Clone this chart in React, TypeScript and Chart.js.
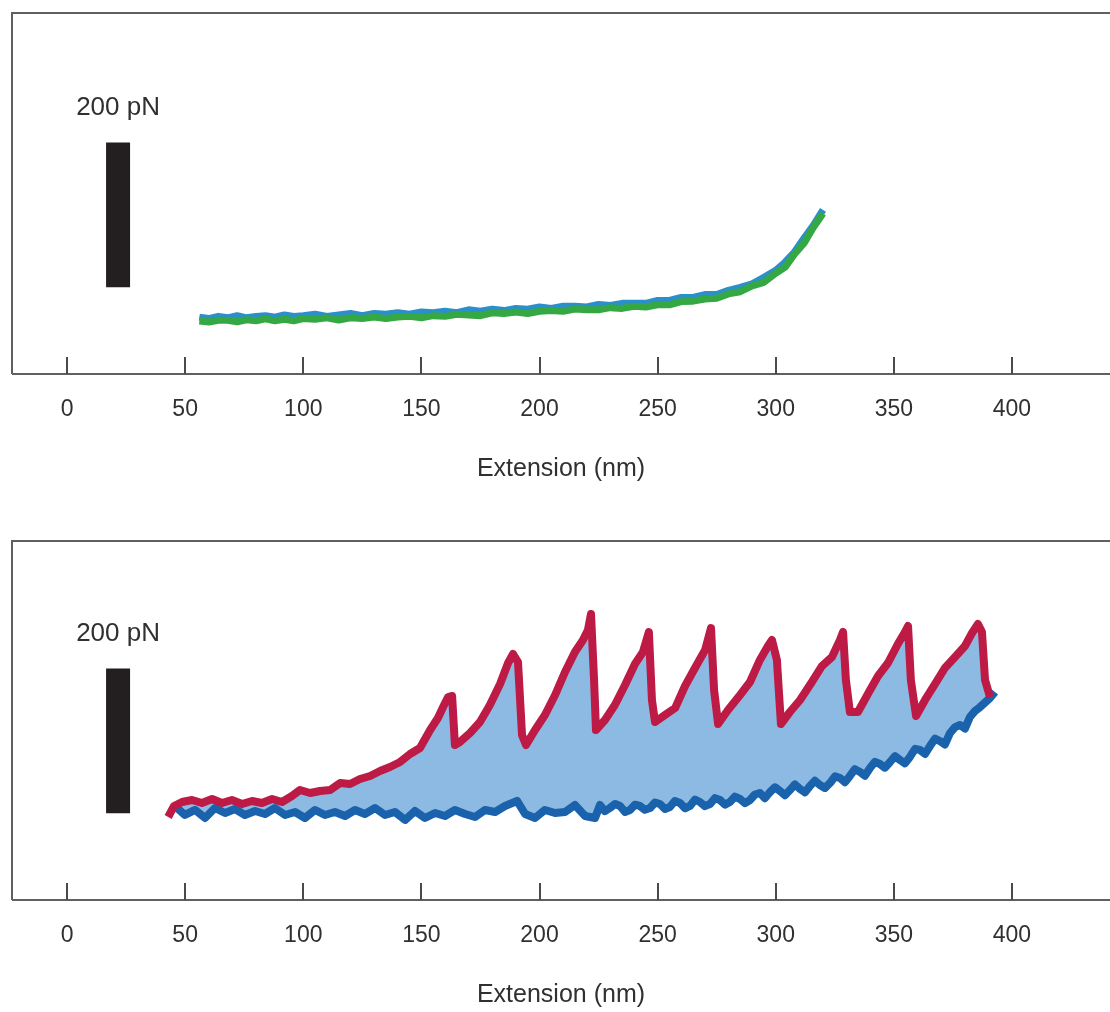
import React, { useEffect, useRef } from 'react';
import { Chart, registerables } from 'chart.js';

Chart.register(...registerables);

// ---------- axis / labels ----------
const X_TICKS = [0, 50, 100, 150, 200, 250, 300, 350, 400];
const X_TITLE = 'Extension (nm)';
const X_MIN = -23.3;
const X_MAX = 441.5;
const Y_MIN = -74.5;
const TOP_Y_MAX = 423.5;
const BOTTOM_Y_MAX = 420.7;
const SCALE_BAR_LABEL = '200 pN';
const SCALE_BAR_X = 21.6;
const SCALE_BAR_Y = [45, 245];
const SCALE_LABEL_Y = 293;

// ---------- top panel: two overlapping traces (nm, pN) ----------
const topX = [56, 60, 64, 68, 72, 76, 80, 84, 88, 92, 96, 100, 105, 110, 115, 120, 125, 130, 135, 140, 145, 150, 155, 160, 165, 170, 175, 180, 185, 190, 195, 200, 205, 210, 215, 220, 225, 230, 235, 240, 245, 250, 255, 260, 265, 270, 275, 280, 285, 290, 295, 300, 304, 308, 312, 316, 320];
const topBlueY = [4, 2, 5, 3, 6, 3, 5, 6, 4, 7, 5, 6, 8, 5, 7, 9, 6, 9, 8, 10, 8, 11, 10, 12, 10, 14, 12, 15, 13, 16, 15, 18, 16, 19, 19, 18, 21.5, 20, 23, 23, 23, 27, 27, 31, 31, 35, 35, 41, 45, 50, 59, 68.5, 80, 94, 113, 131, 152];
const topGreenY = [-1.5, -2.7, -0.5, -0.5, -2.5, 0.3, -1, 1.5, -1, 1, -1, 2, 1, 3, 0, 3, 2, 4, 2, 4, 5, 3, 6, 5, 8, 7, 6, 10, 9, 11, 9, 12, 13, 12, 15, 14, 14, 17, 16, 19, 18, 21, 21, 25.5, 26, 29, 30, 36, 39, 47, 52, 64.5, 73, 91, 106, 128, 147];

// ---------- bottom panel: extension (red) and retraction (blue) ----------
const redX = [42.8, 45.3, 48.7, 52.9, 57.1, 61.4, 65.6, 69.8, 74.1, 78.3, 82.5, 86.8, 91.0, 95.2, 98.6, 102.9, 107.1, 111.4, 115.6, 119.8, 124.0, 128.3, 132.5, 136.7, 141.0, 145.2, 149.4, 153.7, 157.0, 159.6, 161.3, 163.0, 164.2, 166.3, 170.6, 174.8, 179.0, 183.3, 186.7, 188.8, 190.9, 192.6, 194.3, 198.1, 202.3, 206.6, 210.8, 215.0, 218.4, 220.5, 221.8, 223.1, 223.9, 227.7, 231.9, 236.2, 240.4, 243.8, 246.3, 247.6, 248.9, 253.1, 257.4, 261.6, 265.8, 270.1, 272.6, 273.9, 275.6, 279.8, 284.9, 289.1, 293.3, 296.7, 298.4, 300.5, 302.2, 306.0, 310.3, 315.3, 319.6, 323.8, 327.2, 328.5, 329.7, 331.4, 334.8, 339.0, 343.3, 347.5, 351.7, 354.7, 356.0, 357.2, 359.4, 363.2, 367.4, 371.6, 375.9, 380.1, 383.1, 385.6, 387.3, 388.6, 390.7];
const redY = [40.0, 55.2, 60.7, 63.4, 59.3, 64.8, 59.3, 63.4, 57.9, 62.1, 59.3, 64.8, 60.7, 69.0, 77.2, 73.1, 75.9, 77.2, 86.9, 85.5, 92.4, 96.6, 103.4, 109.0, 115.9, 126.9, 135.2, 160.0, 176.6, 194.5, 205.5, 206.9, 139.3, 143.4, 155.9, 171.0, 194.5, 223.4, 252.4, 264.8, 253.8, 153.1, 139.3, 160.0, 180.7, 208.3, 240.0, 267.6, 284.1, 297.9, 320.0, 229.0, 160.0, 173.8, 194.5, 222.1, 251.0, 267.6, 295.2, 201.4, 171.0, 180.7, 190.3, 220.7, 245.5, 270.3, 300.7, 215.2, 168.3, 187.6, 208.3, 226.2, 256.6, 275.9, 284.1, 256.6, 168.3, 184.8, 201.4, 226.2, 248.3, 260.7, 284.1, 295.2, 229.0, 184.8, 184.8, 209.7, 234.5, 252.4, 278.6, 295.2, 303.4, 229.0, 179.3, 201.4, 223.4, 245.5, 260.7, 275.9, 293.8, 306.2, 295.2, 229.0, 205.5];
const retractX = [46.6, 49.9, 54.2, 58.4, 62.6, 66.9, 71.1, 75.3, 79.6, 83.8, 88.0, 92.3, 96.5, 100.7, 105.0, 109.2, 113.4, 117.7, 121.9, 126.1, 130.4, 134.6, 138.8, 143.1, 147.3, 151.5, 155.8, 160.0, 164.2, 168.5, 172.7, 176.9, 181.2, 185.4, 190.5, 193.9, 198.1, 202.3, 206.6, 210.8, 215.0, 219.3, 223.5, 225.6, 227.7, 229.8, 232.0, 234.1, 236.2, 238.3, 240.4, 242.5, 244.6, 246.8, 248.9, 251.0, 253.1, 255.2, 257.3, 259.5, 261.6, 263.7, 265.8, 267.9, 270.0, 272.2, 274.3, 276.4, 278.5, 280.6, 282.7, 284.9, 287.0, 289.1, 291.2, 293.3, 295.4, 297.6, 299.7, 301.8, 303.9, 306.0, 308.1, 310.3, 312.4, 314.5, 316.6, 318.7, 320.8, 323.0, 325.1, 327.2, 329.3, 331.4, 333.5, 335.7, 337.8, 339.9, 342.0, 344.1, 346.2, 348.4, 350.5, 352.6, 354.7, 356.8, 359.0, 361.1, 363.2, 365.3, 367.4, 369.5, 371.6, 373.8, 375.9, 378.0, 380.1, 382.2, 384.3, 386.5, 388.6, 390.7, 392.8];
const retractY = [52.4, 42.8, 49.7, 38.6, 52.4, 45.5, 51.0, 42.8, 48.3, 44.1, 52.4, 42.8, 46.9, 38.6, 49.7, 42.8, 46.9, 41.4, 49.7, 44.1, 52.4, 42.8, 46.9, 35.9, 48.3, 38.6, 45.5, 41.4, 49.7, 44.1, 40.0, 49.7, 46.9, 55.2, 62.1, 44.1, 38.6, 49.7, 45.5, 46.9, 56.6, 41.4, 38.6, 56.6, 48.0, 52.4, 58.0, 55.2, 47.0, 49.7, 57.0, 55.2, 50.0, 52.4, 60.0, 57.9, 51.0, 53.8, 62.0, 59.3, 52.0, 55.2, 64.0, 60.7, 55.0, 57.9, 66.0, 63.4, 57.0, 60.7, 68.0, 64.8, 59.0, 63.4, 71.0, 73.1, 66.0, 74.5, 81.0, 75.9, 70.0, 77.2, 85.0, 78.6, 74.0, 82.8, 90.0, 84.1, 80.0, 86.9, 96.0, 93.8, 88.0, 96.6, 106.0, 102.1, 97.0, 107.6, 116.0, 113.1, 108.0, 115.9, 124.0, 118.6, 114.0, 122.8, 134.0, 132.4, 127.0, 137.9, 148.0, 144.8, 140.0, 155.9, 164.0, 166.9, 162.0, 177.9, 186.0, 191.7, 198.0, 204.1, 212.4];

const FONT = '"Liberation Sans", Arial, Helvetica, sans-serif';
const TEXT_COLOR = '#303030';

const pts = (xs: number[], ys: number[]) => xs.map((x, i) => ({ x, y: ys[i] }));

const decorPlugin = {
  id: 'decor',
  afterDraw(chart: any) {
    const { ctx, chartArea: a, scales } = chart;
    const x = scales.x;
    const y = scales.y;
    ctx.save();
    ctx.strokeStyle = '#606060';
    ctx.lineWidth = 2;
    ctx.beginPath();
    ctx.moveTo(a.left, a.bottom);
    ctx.lineTo(a.left, a.top);
    ctx.lineTo(chart.width, a.top);
    ctx.moveTo(a.left, a.bottom);
    ctx.lineTo(chart.width, a.bottom);
    ctx.stroke();
    ctx.strokeStyle = '#4a4a4a';
    for (const v of X_TICKS) {
      const px = Math.round(x.getPixelForValue(v));
      ctx.beginPath();
      ctx.moveTo(px, a.bottom);
      ctx.lineTo(px, a.bottom - 17);
      ctx.stroke();
    }
    ctx.fillStyle = TEXT_COLOR;
    ctx.font = `26px ${FONT}`;
    ctx.textAlign = 'center';
    ctx.textBaseline = 'middle';
    ctx.fillText(SCALE_BAR_LABEL, x.getPixelForValue(SCALE_BAR_X), y.getPixelForValue(SCALE_LABEL_Y));
    ctx.restore();
  },
};

function scaleBarDataset() {
  return {
    label: 'scale',
    data: [
      { x: SCALE_BAR_X, y: SCALE_BAR_Y[0] },
      { x: SCALE_BAR_X, y: SCALE_BAR_Y[1] },
    ],
    borderColor: '#231f20',
    borderWidth: 24,
    borderCapStyle: 'butt',
    pointRadius: 0,
    fill: false,
  };
}

function Panel({ top, padTop, yMax, datasets }: { top: number; padTop: number; yMax: number; datasets: any[] }) {
  const ref = useRef<HTMLCanvasElement | null>(null);
  useEffect(() => {
    if (!ref.current) return;
    const chart = new Chart(ref.current, {
      type: 'line',
      data: { datasets: [...datasets, scaleBarDataset()] },
      options: {
        animation: false,
        responsive: false,
        maintainAspectRatio: false,
        events: [],
        layout: { padding: { left: 12, right: 0, top: padTop, bottom: 0 } },
        plugins: {
          legend: { display: false },
          tooltip: { enabled: false },
          filler: { drawTime: 'beforeDatasetsDraw' },
        },
        elements: { line: { tension: 0, borderJoinStyle: 'round' }, point: { radius: 0 } },
        scales: {
          x: {
            type: 'linear',
            min: X_MIN,
            max: X_MAX,
            afterBuildTicks: (s: any) => {
              s.ticks = X_TICKS.map((v) => ({ value: v }));
            },
            afterFit: (s: any) => {
              s.height = 132;
            },
            grid: { display: false, drawTicks: false },
            border: { display: false },
            ticks: {
              autoSkip: false,
              maxRotation: 0,
              padding: 22,
              color: TEXT_COLOR,
              font: { family: FONT, size: 23 },
            },
            title: {
              display: true,
              text: X_TITLE,
              color: TEXT_COLOR,
              font: { family: FONT, size: 25 },
              padding: { top: 0, bottom: 22 },
            },
          },
          y: { type: 'linear', display: false, min: Y_MIN, max: yMax },
        },
      } as any,
      plugins: [decorPlugin],
    });
    return () => chart.destroy();
  }, []);
  return (
    <div style={{ position: 'absolute', left: 0, top, width: 1110, height: 506 }}>
      <canvas ref={ref} width={1110} height={506} style={{ width: 1110, height: 506, display: 'block' }} />
    </div>
  );
}

export default function App() {
  const topDatasets = [
    {
      label: 'green',
      data: pts(topX, topGreenY),
      borderColor: '#35a844',
      borderWidth: 7,
      pointRadius: 0,
      fill: false,
    },
    {
      label: 'blue',
      data: pts(topX, topBlueY),
      borderColor: '#2a8fcb',
      borderWidth: 7,
      pointRadius: 0,
      fill: false,
    },
  ];
  const bottomDatasets = [
    {
      label: 'extension',
      data: pts(redX, redY),
      borderColor: '#bd1a45',
      borderWidth: 8,
      pointRadius: 0,
      backgroundColor: '#8dbae2',
      fill: { target: 1, above: '#8dbae2', below: 'rgba(0,0,0,0)' },
    },
    {
      label: 'retraction',
      data: pts(retractX, retractY),
      borderColor: '#1b62ad',
      borderWidth: 8,
      pointRadius: 0,
      fill: false,
    },
  ];
  return (
    <div style={{ position: 'absolute', left: 0, top: 0, width: 1110, height: 1012, overflow: 'hidden', background: '#fff' }}>
      <Panel top={0} padTop={13} yMax={TOP_Y_MAX} datasets={topDatasets} />
      <Panel top={526} padTop={15} yMax={BOTTOM_Y_MAX} datasets={bottomDatasets} />
    </div>
  );
}
